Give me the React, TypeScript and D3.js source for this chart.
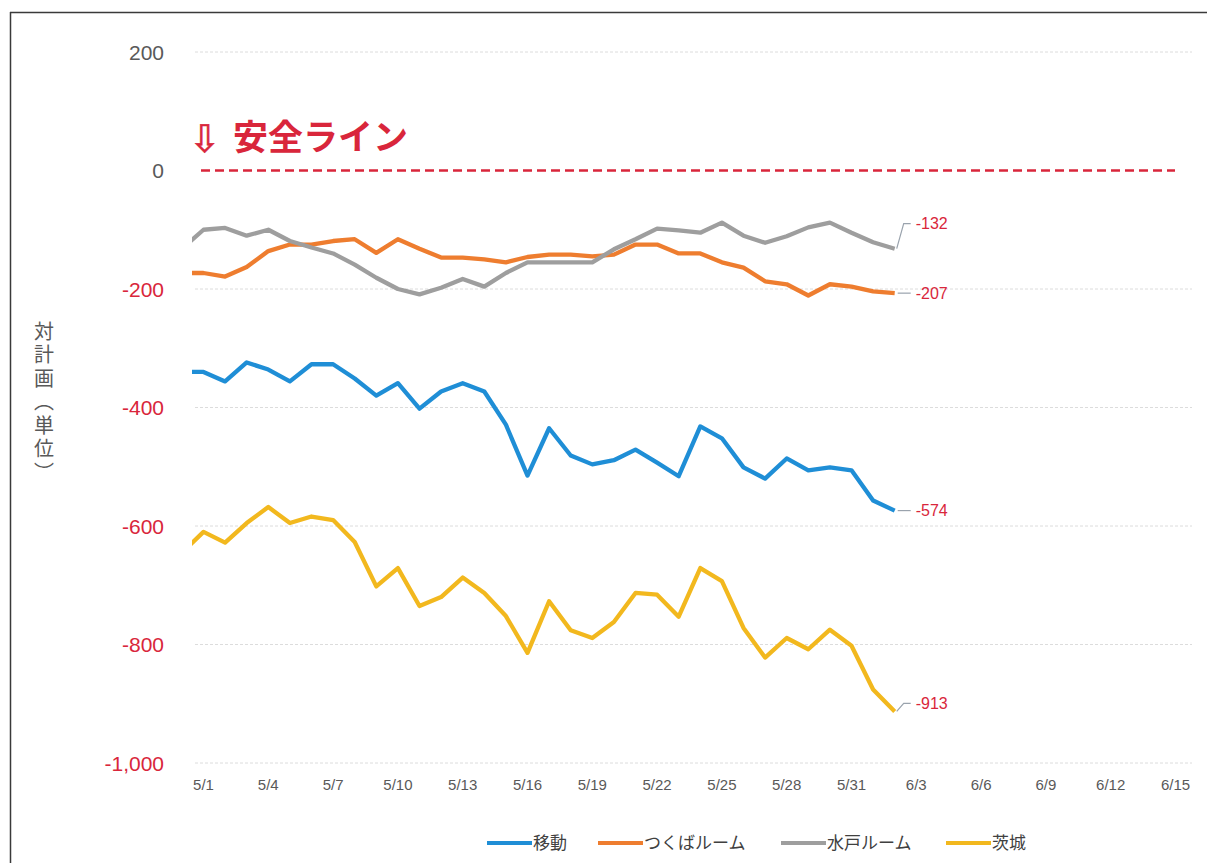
import React from "react";
import * as d3 from "d3";

// ---- Data ----
const dates = [
  "4/30", "5/1", "5/2", "5/3", "5/4", "5/5", "5/6", "5/7", "5/8", "5/9", "5/10",
  "5/11", "5/12", "5/13", "5/14", "5/15", "5/16", "5/17", "5/18", "5/19", "5/20",
  "5/21", "5/22", "5/23", "5/24", "5/25", "5/26", "5/27", "5/28", "5/29", "5/30",
  "5/31", "6/1", "6/2",
];

const idou = [
  -340, -340, -356, -324, -336, -356, -327, -327, -351, -380, -359, -402, -373, -359,
  -373, -429, -515, -435, -481, -496, -489, -471, -493, -516, -432, -452, -501, -520,
  -486, -506, -501, -506, -557, -574,
];
const tsukuba = [
  -173, -173, -179, -163, -136, -125, -125, -119, -116, -139, -116, -132, -147, -147,
  -150, -155, -146, -142, -142, -145, -142, -125, -125, -140, -140, -155, -164, -187,
  -192, -211, -192, -196, -204, -207,
];
const mito = [
  -132, -100, -97, -110, -100, -119, -130, -140, -159, -181, -200, -209, -198, -183,
  -196, -173, -155, -155, -155, -155, -133, -116, -98, -101, -105, -88, -110, -122,
  -111, -96, -88, -105, -121, -132,
];
const ibaraki = [
  -645, -610, -628, -595, -568, -595, -584, -590, -627, -702, -671, -735, -720, -687,
  -713, -752, -814, -727, -776, -789, -762, -713, -716, -753, -671, -693, -772, -822,
  -789, -808, -775, -802, -876, -913,
];

const seriesNames = ["移動", "つくばルーム", "水戸ルーム", "茨城"];
const seriesValues = [idou, tsukuba, mito, ibaraki];
const seriesColors = ["#1f8ed6", "#ee7d2f", "#9e9e9e", "#f2b81e"];

const xTickLabels = [
  "5/1", "5/4", "5/7", "5/10", "5/13", "5/16", "5/19", "5/22", "5/25", "5/28",
  "5/31", "6/3", "6/6", "6/9", "6/12", "6/15",
];
const yTicks = [200, 0, -200, -400, -600, -800, -1000];
const yTickLabels = ["200", "0", "-200", "-400", "-600", "-800", "-1,000"];

const safetyValue = 0;
const safetyLabel = "安全ライン";
const safetyArrow = "⇩";
const yAxisTitle = "対計画（単位）";

// ---- layout ----
const W = 1207;
const H = 863;
const plotLeft = 192;
const plotRight = 1192;

// day offset from 5/1
const dayOf = (s: string) => {
  const [m, d] = s.split("/").map(Number);
  if (m === 4) return d - 31;
  if (m === 5) return d - 1;
  return 30 + d;
};

const x = d3.scaleLinear().domain([0, 45]).range([203.5, 1175.5]);
const y = d3.scaleLinear().domain([-1000, 200]).range([763, 52]);

const red = "#d9263b";
const grayText = "#595959";
const numFont = "'Liberation Sans', Arial, sans-serif";
const jpFont = "'Noto Sans CJK JP', 'Noto Sans', sans-serif";

// label offsets for end-value labels (px)
const endLabelDy = [0, 0, -25, -8];

export default function App() {
  const line = d3
    .line<number>()
    .x((_, i) => x(dayOf(dates[i])))
    .y((v) => y(v))
    .curve(d3.curveLinear);

  const lastIdx = dates.length - 1;
  const xEnd = x(dayOf(dates[lastIdx]));

  const legendX = [487, 598, 781, 946];
  const legendY = 843;

  return (
    <svg
      width={W}
      height={H}
      style={{ position: "absolute", left: 0, top: 0, background: "#fff" }}
    >
      <defs>
        <clipPath id="plotClip">
          <rect x={plotLeft} y={30} width={plotRight - plotLeft} height={760} />
        </clipPath>
      </defs>

      {/* frame */}
      <line x1={10} x2={W} y1={12.5} y2={12.5} stroke="#3a3a3a" strokeWidth={1.5} />
      <line x1={10.5} x2={10.5} y1={12} y2={H} stroke="#3a3a3a" strokeWidth={1.5} />

      {/* gridlines */}
      {yTicks.map((t) =>
        t === safetyValue ? null : (
          <line
            key={"g" + t}
            x1={195}
            x2={1192}
            y1={y(t)}
            y2={y(t)}
            stroke="#dcdcdc"
            strokeWidth={1}
            strokeDasharray="3,2"
          />
        )
      )}

      {/* y tick labels */}
      {yTicks.map((t, i) => (
        <text
          key={"yt" + t}
          x={164}
          y={y(t)}
          dy="0.36em"
          textAnchor="end"
          fontFamily={numFont}
          fontSize={21}
          fill={t < 0 ? red : grayText}
        >
          {yTickLabels[i]}
        </text>
      ))}

      {/* x tick labels */}
      {xTickLabels.map((l) => (
        <text
          key={"xt" + l}
          x={x(dayOf(l))}
          y={790}
          textAnchor="middle"
          fontFamily={numFont}
          fontSize={15}
          fill={grayText}
        >
          {l}
        </text>
      ))}

      {/* y axis title */}
      <text
        x={44}
        y={321}
        fontFamily={jpFont}
        fontSize={20}
        fill={grayText}
        letterSpacing={3.5}
        style={{ writingMode: "vertical-rl" as any }}
      >
        {yAxisTitle}
      </text>

      {/* safety line */}
      <line
        x1={201}
        x2={1175}
        y1={y(safetyValue)}
        y2={y(safetyValue)}
        stroke={red}
        strokeWidth={2.6}
        strokeDasharray="9,5"
      />
      <text
        x={189}
        y={152}
        fontFamily="'DejaVu Sans', sans-serif"
        fontSize={38}
        fill={red}
        stroke={red}
        strokeWidth={0.6}
      >
        {safetyArrow}
      </text>
      <text
        x={233}
        y={150}
        fontFamily={jpFont}
        fontWeight="bold"
        fontSize={35}
        fill={red}
      >
        {safetyLabel}
      </text>

      {/* series */}
      <g clipPath="url(#plotClip)">
        {seriesValues.map((vals, si) => (
          <path
            key={"s" + si}
            d={line(vals) || ""}
            fill="none"
            stroke={seriesColors[si]}
            strokeWidth={4.3}
            strokeLinejoin="round"
          />
        ))}
      </g>

      {/* end labels */}
      {seriesValues.map((vals, si) => {
        const v = vals[lastIdx];
        const yv = y(v);
        const yl = yv + endLabelDy[si];
        const d =
          endLabelDy[si] === 0
            ? `M${xEnd + 3},${yv} L${xEnd + 16},${yl}`
            : `M${xEnd + 2},${yv} L${xEnd + 9},${yl} L${xEnd + 16},${yl}`;
        return (
          <g key={"el" + si}>
            <path d={d} fill="none" stroke="#9aa3ad" strokeWidth={1.2} />
            <text
              x={xEnd + 21}
              y={yl}
              dy="0.35em"
              fontFamily={numFont}
              fontSize={16}
              fill={red}
            >
              {String(v)}
            </text>
          </g>
        );
      })}

      {/* legend */}
      {seriesNames.map((n, i) => (
        <g key={"lg" + i}>
          <line
            x1={legendX[i]}
            x2={legendX[i] + 45}
            y1={legendY}
            y2={legendY}
            stroke={seriesColors[i]}
            strokeWidth={4}
          />
          <text
            x={legendX[i] + 46}
            y={legendY}
            dy="0.36em"
            fontFamily={jpFont}
            fontSize={17}
            fill="#404040"
          >
            {n}
          </text>
        </g>
      ))}
    </svg>
  );
}
